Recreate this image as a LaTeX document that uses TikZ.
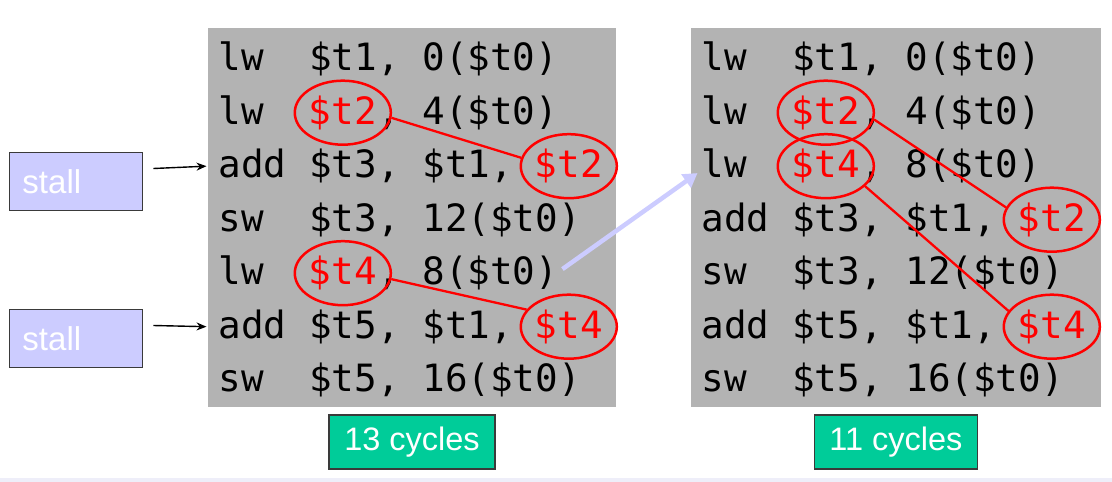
\documentclass[tikz,border=0pt]{standalone}
\usepackage{fontspec}
\usetikzlibrary{arrows.meta,shapes.geometric,positioning}
\newfontfamily\codefont{DejaVu Sans Mono}
\newfontfamily\labelfont{Liberation Sans}
\definecolor{panelgray}{HTML}{B3B3B3}
\definecolor{stallblue}{HTML}{CCCCFF}
\definecolor{cyclegreen}{HTML}{00CC99}
\definecolor{edgegray}{HTML}{3A3A3A}
\definecolor{footlilac}{HTML}{EEEEF9}
\def\colw{22.6pt}
\begin{document}
\begin{tikzpicture}[
    x=1pt, y=-1pt,
    panel/.style={fill=panelgray, minimum width=408pt, minimum height=379pt, inner sep=0pt},
    code/.style={font=\codefont\fontsize{37.6}{40}\selectfont, inner sep=0pt, anchor=base west, text=black},
    reg ring/.style={ellipse, draw=red, line width=2.5pt, text=red, inner sep=0pt, minimum width=94pt, minimum height=64pt, anchor=base, font=\codefont\fontsize{37.6}{40}\selectfont},
    dep line/.style={draw=red, line width=2.3pt},
    stall box/.style={draw=edgegray, line width=1.8pt, fill=stallblue, text=white, font=\labelfont\fontsize{33}{36}\selectfont, text width=107pt, inner xsep=13pt, minimum height=58pt, align=left},
    cycle box/.style={draw=edgegray, line width=1.8pt, fill=cyclegreen, text=white, font=\labelfont\fontsize{32.5}{36}\selectfont, inner xsep=15pt, minimum height=54pt},
    stall arrow/.style={draw, line width=1.4pt, -{Stealth[length=10pt,width=8pt]}},
    move arrow/.style={draw=stallblue, line width=4.5pt, -{Triangle[length=14pt,width=16pt]}},
    ]
\useasboundingbox (0,0) rectangle (1112,482);
\fill[footlilac] (0,478) rectangle (1112,482);
% the two code panels
\node[panel] (panelA) at (412,217.5) {};
\node[panel, minimum width=410pt] (panelB) at (896,217.5) {};
% original order
\node[code] (rowA1) at (218.5,70.7) {lw~~\$t1, 0(\$t0)};
\node[code] (rowA2) at (218.5,124.2) {lw~~\phantom{\$t2}, 4(\$t0)};
\node[code] (rowA3) at (218.5,177.7) {add \$t3, \$t1, \phantom{\$t2}};
\node[code] (rowA4) at (218.5,231.2) {sw~~\$t3, 12(\$t0)};
\node[code] (rowA5) at (218.5,284.7) {lw~~\phantom{\$t4}, 8(\$t0)};
\node[code] (rowA6) at (218.5,338.2) {add \$t5, \$t1, \phantom{\$t4}};
\node[code] (rowA7) at (218.5,391.7) {sw~~\$t5, 16(\$t0)};
% reordered
\node[code] (rowB1) at (701.5,70.7) {lw~~\$t1, 0(\$t0)};
\node[code] (rowB2) at (701.5,124.2) {lw~~\phantom{\$t2}, 4(\$t0)};
\node[code] (rowB3) at (701.5,177.7) {lw~~\phantom{\$t4}, 8(\$t0)};
\node[code] (rowB4) at (701.5,231.2) {add \$t3, \$t1, \phantom{\$t2}};
\node[code] (rowB5) at (701.5,284.7) {sw~~\$t3, 12(\$t0)};
\node[code] (rowB6) at (701.5,338.2) {add \$t5, \$t1, \phantom{\$t4}};
\node[code] (rowB7) at (701.5,391.7) {sw~~\$t5, 16(\$t0)};
% circled registers
\node[reg ring] (regA2) at ([xshift=5.5*\colw]rowA2.base west) {\$t2};
\node[reg ring] (regA3) at ([xshift=15.5*\colw]rowA3.base west) {\$t2};
\node[reg ring] (regA5) at ([xshift=5.5*\colw]rowA5.base west) {\$t4};
\node[reg ring] (regA6) at ([xshift=15.5*\colw]rowA6.base west) {\$t4};
\node[reg ring] (regB2) at ([xshift=5.5*\colw]rowB2.base west) {\$t2};
\node[reg ring] (regB3) at ([xshift=5.5*\colw]rowB3.base west) {\$t4};
\node[reg ring] (regB4) at ([xshift=15.5*\colw]rowB4.base west) {\$t2};
\node[reg ring] (regB6) at ([xshift=15.5*\colw]rowB6.base west) {\$t4};
\draw[dep line] (regA2.-6) -- (regA3.170);
\draw[dep line] (regA5.-7) -- (regA6.158);
\draw[dep line] (regB2.-8) -- (regB4.165);
\draw[dep line] (regB3.-27) -- (regB6.160);
% stalls
\node[stall box] (stallA) at (76,181.5) {stall};
\node[stall box] (stallB) at (76,338.5) {stall};
\draw[stall arrow] ([shift={(10pt,13pt)}]stallA.east) -- ([xshift=-12pt]rowA3.west);
\draw[stall arrow] ([shift={(10pt,13pt)}]stallB.east) -- ([xshift=-12pt]rowA6.west);
\draw[move arrow] ([shift={(4pt,4pt)}]rowA5.east) -- ([shift={(-4pt,-7pt)}]rowB3.west);
% cycle counts
\node[cycle box, below=7pt of panelA] (cyclesA) {13 cycles};
\node[cycle box, below=7pt of panelB] (cyclesB) {11 cycles};
\end{tikzpicture}
\end{document}
